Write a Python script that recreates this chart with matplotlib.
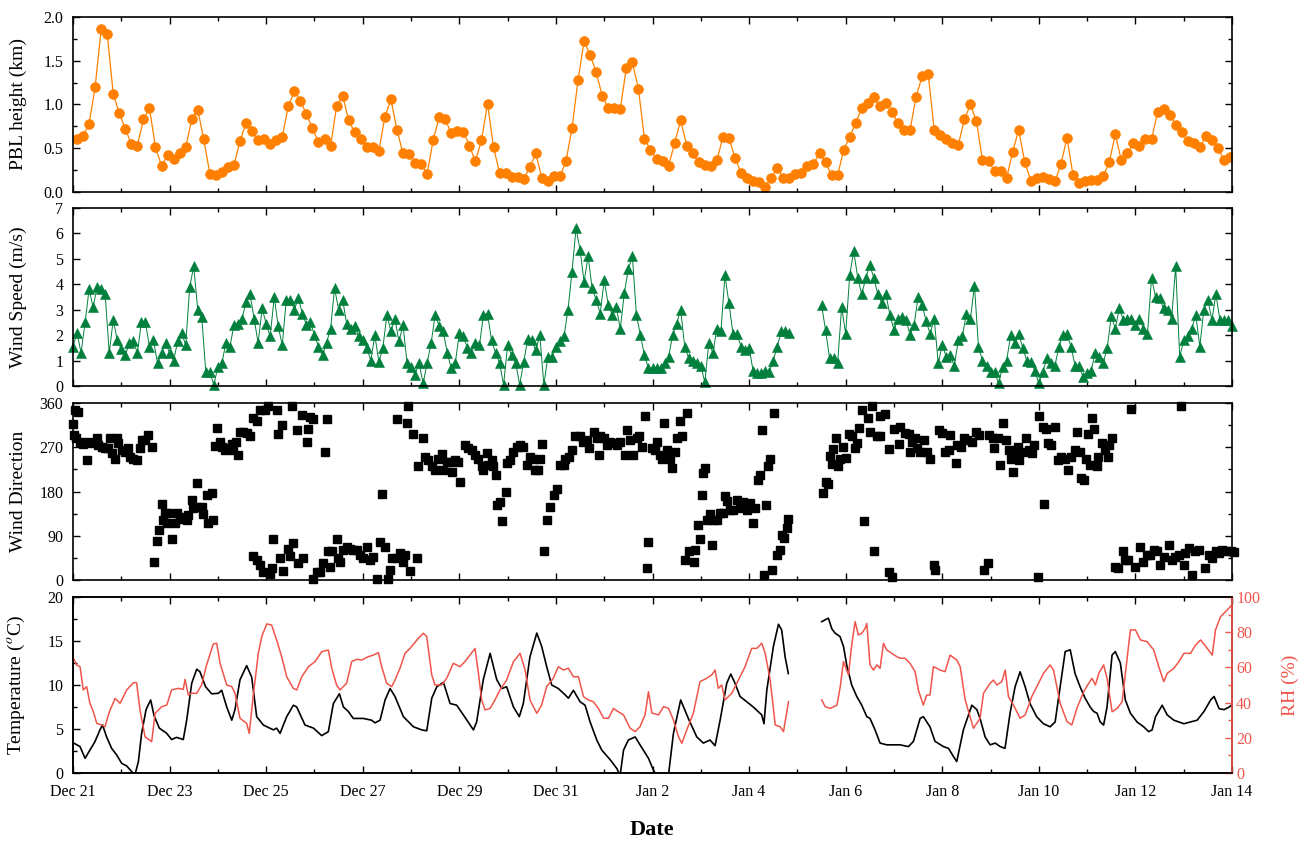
import numpy as np
import matplotlib
matplotlib.use('Agg')
import matplotlib.pyplot as plt
import matplotlib.dates as mdates
from matplotlib.ticker import MultipleLocator, FormatStrFormatter
from datetime import datetime, timedelta

plt.rcParams['font.family'] = ['Liberation Serif', 'DejaVu Serif']
plt.rcParams['mathtext.fontset'] = 'stix'

nan = float('nan')
START = datetime(2019, 12, 21)
N_DAYS = 24

# ---------------- data ----------------
# PBL height (km), 3-hourly starting 02:00 Dec 21
pbl_first_hour = 2
pbl_step_hours = 3
pbl_km = [0.61,0.64,0.78,1.20,1.86,1.81,1.12,0.90,0.72,0.55,0.53,0.83,0.96,0.51,0.30,0.42,
          0.38,0.45,0.51,0.83,0.94,0.60,0.21,0.19,0.23,0.29,0.31,0.58,0.79,0.70,0.59,0.61,
          0.55,0.59,0.63,0.98,1.15,1.04,0.89,0.73,0.57,0.60,0.52,0.98,1.10,0.82,0.68,0.60,
          0.51,0.51,0.47,0.86,1.06,0.71,0.44,0.43,0.33,0.32,0.21,0.59,0.86,0.83,0.67,0.70,
          0.69,0.53,0.35,0.59,1.01,0.51,0.22,0.22,0.17,0.17,0.15,0.28,0.44,0.16,0.12,0.18,
          0.18,0.35,0.73,1.28,1.72,1.57,1.37,1.10,0.96,0.96,0.95,1.42,1.48,1.18,0.61,0.48,
          0.38,0.35,0.30,0.56,0.82,0.53,0.44,0.34,0.31,0.30,0.36,0.63,0.62,0.39,0.22,0.16,
          0.13,0.11,0.06,0.16,0.27,0.16,0.16,0.20,0.22,0.30,0.32,0.45,0.34,0.19,0.19,
          0.48,0.63,0.79,0.96,1.02,1.08,0.98,1.02,0.91,0.79,0.71,0.71,1.09,1.32,1.35,0.71,
          0.65,0.60,0.56,0.54,0.83,1.00,0.81,0.36,0.35,0.24,0.24,0.16,0.46,0.71,0.34,0.13,
          0.16,0.17,0.15,0.12,0.32,0.62,0.19,0.10,0.13,0.14,0.14,0.18,0.34,0.66,0.36,0.44,
          0.56,0.52,0.60,0.60,0.91,0.95,0.88,0.77,0.69,0.58,0.56,0.51,0.64,0.59,0.50,0.37,0.40]

# Wind speed (m/s), 2-hourly from 00:00 Dec 21 (nan = missing)
ws_step_hours = 2
wind_speed = [1.55,2.1,1.3,2.5,3.8,3.1,3.9,3.8,3.6,1.3,2.6,1.8,1.45,1.2,1.7,1.75,1.3,2.5,2.5,1.55,
              1.8,0.9,1.3,1.7,1.3,1.0,1.75,2.1,1.6,3.9,4.7,3.0,2.7,0.55,0.55,0.05,0.75,0.9,1.7,1.55,
              2.4,2.45,2.65,3.3,3.6,2.65,1.7,3.05,2.45,1.95,3.5,2.35,1.6,3.4,3.4,3.0,3.45,2.85,2.4,2.5,
              2.0,1.55,1.2,1.7,2.25,3.85,3.0,3.4,2.45,2.25,2.35,1.95,1.8,1.5,1.0,2.0,0.95,1.5,2.8,2.15,
              2.65,1.75,2.4,0.9,0.75,0.45,0.9,0.1,0.9,1.7,2.8,2.35,2.15,1.3,0.7,0.9,2.1,
              1.95,1.5,1.3,1.7,1.6,2.8,2.85,1.8,1.3,0.9,0.05,1.6,1.2,0.9,0.05,0.95,1.85,1.8,1.4,2.0,
              0.05,1.15,1.15,1.55,1.75,1.95,3.0,4.5,6.2,5.35,4.1,5.1,3.85,3.4,2.85,4.15,3.2,2.8,3.1,2.25,
              3.65,4.6,5.1,2.8,2.0,1.2,0.7,0.7,0.7,0.7,0.9,1.15,2.0,2.45,3.0,1.55,1.1,1.0,0.9,0.8,
              0.15,1.7,1.3,2.25,2.15,4.35,3.25,2.05,2.05,1.55,1.4,1.5,0.6,0.5,0.5,0.6,0.55,1.0,1.55,2.15,
              2.15,2.1,
              nan,nan,nan,nan,nan,nan,nan,
              3.2,2.2,1.1,1.1,0.9,3.1,2.05,4.35,5.3,4.25,3.6,4.25,4.75,4.25,3.6,3.25,3.6,2.8,2.2,2.65,
              2.7,2.6,2.0,2.4,3.5,3.2,2.55,2.05,2.65,0.9,1.6,1.15,1.2,0.8,1.8,1.95,2.85,2.65,3.95,1.55,
              1.0,0.8,0.55,0.55,0.1,0.75,1.0,2.0,1.7,2.05,1.5,1.0,0.95,0.6,0.1,0.55,1.1,0.9,0.8,1.55,
              2.0,2.05,1.55,0.8,0.8,0.35,0.5,0.6,1.3,1.15,0.9,1.5,2.75,2.25,3.05,2.6,2.65,2.65,2.4,2.65,
              2.25,2.05,4.25,3.5,3.45,3.05,3.0,2.65,4.7,1.15,1.8,1.95,2.25,2.8,1.55,3.0,3.4,2.6,3.6,2.6,
              2.6,2.6,2.35]

# Wind direction (hour since Dec 21 00:00, degrees)
wind_dir = [
 (0.2,317),(0.5,295),(1,346),(1.5,288),(2.7,341),(3.5,281),(5.1,276),(6.8,244),(7.6,281),(9.3,278),
 (11.8,288),(12.6,275),(14.2,271),(15.9,268),(17.6,269),(18.4,288),(19.2,258),(20.9,247),(21.7,288),
 (22.5,278),(24.2,264),(25.8,261),(27.5,268),(28.3,251),(30.0,247),(31.6,244),(33.3,268),(34.1,285),
 (35.8,285),(37.4,295),(39.1,271),
 (40.4,36),(41.6,80),(42.9,102),(44.1,154),(44.9,122),(45.7,136),(46.6,115),(47.4,136),(49.0,83),
 (50.7,115),(51.5,136),(53.2,125),(54.8,129),(56.5,122),(57.3,132),(59.0,163),(59.8,146),(61.5,197),
 (61.5,149),(63.9,149),(64.8,134),(66.4,173),(67.3,115),(68.9,176),(69.7,122),
 (70.6,273),(71.7,310),(73.1,281),(73.9,271),(75.5,264),(77.2,268),(78.9,276),(79.7,264),(81.0,281),
 (82.2,254),(83.0,302),(84.7,302),(86.3,298),(88.0,292),(89.6,330),(91.3,323),(92.9,346),(95.4,346),
 (97.1,353),(101.2,346),(102.1,296),(103.7,315),(108.7,353),(111.2,305),(113.7,336),(116.1,281),
 (117.0,308),(117.8,332),(119.5,327),(125.2,261),(126.1,327),
 (89.6,49),(91.3,41),(92.9,31),(94.6,17),(97.9,12),(98.7,24),(99.6,83),(102.9,44),(104.5,19),
 (107.0,64),(107.9,49),(109.5,76),(112.0,35),(114.5,44),(119.5,3),(121.1,17),(122.8,17),(124.4,34),
 (126.9,58),(127.7,27),(128.6,58),(131.0,83),(131.9,44),(132.7,37),(134.4,61),(136.0,68),(137.7,64),
 (139.3,61),(141.0,61),(142.6,51),(144.3,44),(146.0,68),(147.6,41),(149.3,47),(150.9,3),(152.6,78),
 (153.4,174),(155.1,68),(156.7,3),(157.6,20),(158.4,44),(160.9,44),(162.5,54),(164.2,37),(165.0,51),
 (167.5,19),(170.8,44),
 (160.9,327),(165.8,319),(166.7,353),(169.2,296),(171.6,231),(174.1,288),(174.9,251),(176.6,244),
 (178.3,231),(179.9,224),(181.6,247),(183.2,256),(184.1,224),(185.7,241),(187.4,241),(188.2,219),
 (189.9,244),(191.5,241),(192.4,199),
 (194.8,275),(196.5,268),(198.2,264),(199.8,254),(201.5,247),(203.1,231),(204.0,224),(205.6,258),
 (206.4,234),(208.1,244),(208.9,231),(210.3,214),(210.6,153),(212.3,159),(213.1,120),(215.2,180),
 (215.5,237),(217.2,244),(218.8,261),(220.5,271),(222.2,275),(223.8,271),(225.5,234),(227.1,251),
 (228.8,247),(229.7,224),(231.3,224),(232.1,247),(233.0,276),(234.1,58),(235.5,122),(237.2,149),
 (238.8,173),(240.5,186),(242.1,234),(243.8,234),(244.6,247),(246.3,251),(247.9,264),(249.6,292),
 (252.0,292),(253.7,281),(255.4,285),(256.2,268),(258.7,302),(260.3,288),(261.2,254),(262.0,292),
 (263.7,288),(265.3,275),(267.0,281),(268.6,278),(270.3,275),(271.9,281),(274.4,254),(275.2,305),
 (276.9,285),(278.5,254),(280.2,288),(281.5,292),(282.7,271),(284.3,334),(285.2,24),(286.0,77),
 (287.7,268),(289.3,264),(290.2,281),(291.8,254),(292.7,247),(293.5,319),(295.2,264),(296.8,247),
 (297.7,227),(299.3,261),(300.2,288),(301.5,323),(302.7,292),(305.2,339),(304.4,41),(306.0,58),
 (308.5,37),(309.3,61),(310.4,111),(311.4,83),(312.6,173),(313.3,217),(314.1,228),(314.9,122),
 (316.6,134),(317.4,71),(318.2,122),(319.9,122),(321.5,136),(323.2,136),(324.0,170),(324.9,161),
 (326.5,142),(328.2,142),(329.8,163),(331.5,146),(333.2,159),(334.8,142),(336.5,156),(338.1,115),
 (339.0,146),(340.6,203),(341.5,214),(342.3,305),(343.2,10),(344.5,153),(345.6,231),(346.5,247),
 (347.3,20),(348.5,339),(349.7,51),(351.4,61),(352.2,92),(353.4,85),(354.7,105),(355.5,124),
 (372.9,176),(374.3,199),(375.4,195),(376.2,252),(377.1,235),(377.9,266),(379.2,288),(380.4,231),
 (381.2,247),(382.9,271),(384.2,249),(385.9,296),(387.0,292),(388.7,268),(389.5,278),(390.8,310),
 (392.3,346),(393.3,120),(395.3,329),(396.1,302),(396.9,353),(398.3,58),(399.4,292),(401.1,292),
 (401.1,334),(403.6,337),(405.3,266),(405.3,17),(406.9,7),(408.1,308),(410.3,276),(411.1,312),
 (413.6,298),(415.3,296),(416.1,261),(416.9,281),(418.6,288),(419.4,268),(421.1,261),(422.8,285),
 (424.4,261),(426.1,247),(427.8,31),(428.6,20),(430.3,305),(431.9,298),(433.6,261),(435.3,264),
 (436.1,295),(438.6,237),(439.4,275),(441.1,271),(442.8,288),(444.4,285),(446.9,281),(448.6,302),
 (450.3,295),(452.8,20),(454.5,34),(455.3,295),(457.0,288),(457.8,268),(459.5,288),(460.8,233),
 (462.0,319),(463.6,285),(465.3,264),(466.2,247),(467.0,220),(467.8,258),(469.5,271),(470.3,244),
 (472.0,261),(473.7,288),(475.3,264),(476.5,258),(477.8,275),(479.5,7),(480.3,334),(482.0,312),
 (482.8,154),(483.6,308),(484.5,278),(486.1,275),(487.8,312),(489.5,244),(491.1,251),(492.8,247),
 (494.4,224),(496.1,251),(497.8,264),(499.1,300),(500.3,261),(501.1,208),(502.4,203),(503.6,247),
 (504.5,296),(505.3,234),(506.5,330),(507.5,308),(508.7,231),(509.5,251),(511.2,278),(512.8,264),
 (514.2,251),(514.8,275),(516.5,288),
 (517.8,27),(519.5,24),(522.0,58),(522.9,41),(524.5,41),(525.9,348),(527.8,27),(530.3,68),(532.0,37),
 (533.6,51),(535.3,51),(537.0,61),(538.7,58),(540.3,31),(542.0,47),(544.5,71),(546.2,41),(547.8,47),
 (549.5,51),(550.9,353),(552.0,31),(552.8,54),(554.5,66),(556.2,10),(557.8,58),(559.5,61),(562.5,24),
 (564.5,51),(566.2,44),(567.8,58),(569.5,54),(571.1,61),(572.8,58),(575.3,58),(577.0,56)]

# Temperature (hour, degC)
temperature = [
 (0,3.45),(3.5,3.0),(6,1.67),(8.4,2.6),(10.9,3.56),(13.4,4.9),(14.7,5.45),(16.7,4.1),(19.2,2.8),
 (21.7,2.05),(24.2,1.1),(26.7,0.8),(29.2,0.15),(30.8,-0.2),(32.5,1.3),(34.1,4.5),(36.3,7.2),(38.6,8.3),
 (40.3,6.5),(42.9,5.1),(46.6,4.5),(49.0,3.8),(51.5,4.05),(54.8,3.8),(56.5,6.0),(59.0,10.2),(61.5,11.8),
 (63.1,11.5),(65.9,9.8),(68.9,9.0),(72.2,9.05),(73.9,9.4),(76.4,7.5),(78.9,6.0),(80.5,7.2),(83.0,10.6),
 (86.3,12.2),(88.8,10.9),(91.3,6.4),(94.6,5.45),(99.6,4.9),(101.2,5.1),(102.9,4.5),(106.2,6.4),
 (109.5,7.7),(111.2,7.5),(115.3,5.45),(119.5,5.1),(123.6,4.25),(126.9,4.7),(129.4,7.9),(132.4,9.0),
 (134.4,7.5),(136.8,7.0),(139.3,6.2),(144.3,6.2),(148.4,6.0),(150.1,5.7),(152.6,6.0),(155.1,8.3),
 (157.6,9.6),(160.0,8.7),(164.2,6.4),(169.2,5.25),(173.3,4.9),(175.8,4.8),(178.3,8.5),(180.8,9.8),
 (184.1,10.3),(187.4,7.9),(190.7,7.7),(194.0,6.6),(199.0,4.9),(200.6,5.8),(203.9,10.6),(207.3,13.6),
 (210.6,10.6),(213.1,9.6),(215.5,9.8),(218.9,7.5),(221.8,6.4),(223.8,7.9),(227.1,13.2),(230.5,15.9),
 (232.9,14.4),(235.4,12.1),(237.9,10.0),(241.2,9.6),(244.5,8.9),(246.2,8.5),(248.7,9.4),(252.0,8.1),
 (254.5,7.7),(257.0,5.8),(260.3,3.75),(262.8,2.6),(267.0,1.5),(270.3,0.5),(271.9,-0.3),(273.6,2.6),
 (276.0,3.75),(279.4,4.1),(281.8,3.2),(286.0,1.67),(288.5,0.3),(292.0,-1.0),(295.9,-0.3),(298.4,4.5),
 (302.0,8.3),(305.8,6.2),(310.0,4.1),(313.3,3.4),(316.6,3.75),(319.1,3.1),(321.6,6.0),(324.9,10.2),
 (326.9,11.25),(329.0,10.2),(331.5,8.7),(334.8,8.1),(338.1,7.5),(342.3,6.6),(343.4,5.6),(344.8,9.4),
 (348.1,14.4),(350.6,16.9),(352.2,16.25),(353.9,13.2),(355.5,11.3),(364,nan),
 (372.1,17.2),(373.8,17.4),(375.4,17.6),(377.1,16.4),(378.7,15.9),(381.2,15.5),(382.9,14.4),
 (384.5,12.3),(387.0,10.0),(389.5,8.7),(392.0,7.7),(394.5,6.4),(396.1,6.2),(398.6,4.9),(401.1,3.4),
 (404.4,3.2),(407.7,3.2),(411.0,3.2),(415.2,3.0),(417.7,3.6),(421.0,6.2),(422.6,6.4),(425.9,5.25),
 (428.4,3.6),(432.6,3.0),(435.1,2.8),(437.6,1.86),(439.2,1.3),(442.5,4.9),(446.7,7.7),(449.2,7.2),
 (450.8,6.2),(453.3,4.1),(455.8,3.2),(458.3,3.4),(460.8,3.0),(463.2,2.8),(465.7,6.8),(468.2,9.8),
 (470.7,11.5),(473.2,9.8),(475.6,7.9),(478.9,6.4),(482.3,5.6),(485.6,5.25),(488.1,5.8),(490.6,9.8),
 (493.1,13.8),(495.6,14.0),(498.0,11.3),(500.5,9.8),(503.0,8.5),(505.5,7.5),(507.2,7.0),(508.9,6.8),
 (510.5,5.8),(512.2,5.45),(513.9,7.5),(516.4,13.4),(518.0,13.8),(520.5,12.5),(523.0,8.3),(525.5,6.8),
 (528.8,5.8),(532.1,5.25),(534.6,4.7),(536.3,4.9),(538.0,6.4),(541.3,7.7),(543.8,6.6),(547.1,6.0),
 (552.1,5.6),(555.4,5.8),(558.7,6.0),(562.1,7.0),(565.4,8.3),(567.1,8.7),(569.6,7.3),(572.1,7.2),
 (574.6,7.5),(576.8,7.9)]

# Relative humidity (hour, %)
rel_hum = [
 (0,65.7),(1.8,61.4),(3.5,60.4),(5.1,47.2),(6.8,49.0),(8.4,39.6),(10.1,34.8),(11.8,28.2),(14.2,27.3),
 (15.9,26.3),(18.1,34.8),(20.9,42.4),(23.4,39.6),(26.7,47.2),(30.0,51.3),(31.6,51.3),(33.3,35.8),
 (35.8,20.6),(39.1,17.8),(40.8,33.9),(44.1,37.7),(46.6,38.6),(49.0,47.2),(52.4,48.1),(54.8,47.5),
 (55.7,53.2),(57.3,44.3),(59.0,45.3),(61.5,45.3),(63.9,50.0),(66.4,61.4),(69.7,73.3),(71.4,73.7),
 (73.1,62.3),(76.4,50.0),(78.9,49.1),(80.5,45.3),(83.0,31.1),(86.3,28.2),(87.6,22.5),(89.6,44.3),
 (92.1,68.0),(93.8,77.5),(96.3,84.7),(98.7,84.1),(101.2,75.6),(103.7,66.1),(106.2,54.7),(109.5,48.1),
 (111.2,47.2),(113.7,54.7),(117.0,60.4),(120.3,63.3),(123.6,68.9),(126.9,69.9),(128.6,59.5),
 (131.0,50.0),(132.7,47.2),(136.0,51.0),(138.5,63.3),(141.0,64.6),(143.5,64.2),(146.8,66.1),
 (149.3,67.0),(151.8,68.4),(153.4,60.4),(155.9,51.0),(158.4,49.1),(160.0,52.8),(162.5,59.5),
 (165.0,68.0),(167.5,70.8),(171.6,76.5),(174.1,79.4),(175.8,77.5),(178.3,55.7),(179.9,50.0),
 (183.2,50.0),(185.7,53.8),(189.0,62.3),(192.3,60.4),(194.8,63.3),(197.3,67.0),(199.8,70.8),
 (201.5,56.6),(203.1,41.5),(204.8,35.8),(207.3,36.7),(209.7,41.5),(212.2,47.2),(215.5,52.8),
 (218.9,63.3),(222.2,68.0),(224.7,58.5),(227.1,41.5),(230.5,33.9),(232.9,38.6),(235.4,49.1),
 (238.7,53.8),(241.2,60.4),(243.7,58.5),(246.2,59.5),(248.7,54.7),(251.2,54.7),(253.7,43.4),
 (256.1,41.5),(258.6,40.5),(261.1,36.7),(263.7,31.1),(266.1,31.1),(268.6,36.7),(271.0,34.8),
 (273.6,33.0),(276.9,25.4),(279.4,23.5),(281.8,26.3),(284.3,33.0),(286.0,46.2),(287.7,34.1),
 (291.0,33.0),(293.5,37.7),(296.0,36.7),(298.4,30.1),(300.9,20.6),(302.6,16.9),(305.0,24.4),
 (308.3,33.9),(311.6,51.9),(314.9,53.8),(317.4,55.7),(319.1,58.5),(320.7,48.1),(322.4,50.0),
 (324.0,41.5),(327.4,45.3),(330.7,52.8),(334.0,60.4),(337.3,70.8),(339.8,70.8),(342.3,73.7),
 (344.0,68.0),(346.5,52.8),(349.0,27.3),(351.4,26.3),(353.1,23.5),(355.6,40.5),(364,nan),
 (372.1,41.5),(373.8,37.7),(376.3,36.7),(379.7,38.6),(381.3,49.0),(382.9,63.3),(385.4,55.7),
 (387.0,72.7),(388.7,86.0),(390.3,78.4),(392.0,79.4),(393.7,82.2),(394.5,85.0),(396.1,61.4),
 (397.8,58.5),(399.5,61.4),(401.1,59.5),(402.8,73.7),(404.4,69.9),(406.9,68.0),(409.4,66.1),
 (411.0,65.2),(413.5,65.2),(416.0,62.3),(418.5,57.6),(420.1,47.2),(422.6,38.6),(424.3,44.3),
 (425.9,44.3),(427.6,60.4),(429.3,59.5),(430.9,58.5),(433.4,57.6),(435.9,67.0),(439.2,64.2),
 (440.9,60.4),(443.4,41.5),(447.5,25.4),(450.8,31.1),(452.5,45.3),(455.8,51.0),(457.5,52.8),
 (459.1,50.0),(461.6,51.9),(463.3,58.5),(464.9,43.4),(467.4,38.6),(470.7,31.1),(473.2,33.0),
 (476.5,43.4),(479.0,49.1),(482.3,56.6),(485.6,61.4),(487.3,58.5),(490.6,39.6),(494.0,29.2),
 (496.4,27.3),(498.9,36.7),(502.3,46.2),(504.8,51.0),(506.4,53.8),(508.1,50.0),(509.8,56.6),
 (512.2,61.4),(513.9,53.8),(516.4,34.8),(518.9,36.7),(521.4,40.5),(523.8,64.2),(525.5,81.3),
 (528.0,81.3),(530.5,75.6),(533.8,74.6),(537.1,69.9),(539.6,60.4),(542.1,51.9),(543.8,56.6),
 (547.1,59.5),(549.6,63.3),(552.1,68.0),(555.4,68.0),(557.9,72.7),(560.4,75.6),(563.7,70.8),
 (566.2,67.0),(567.8,81.3),(570.3,88.8),(573.6,92.6),(576.6,96.4)]

# ---------------- helpers ----------------
def to_dates(hours):
    return [START + timedelta(hours=float(h)) for h in hours]

pbl_t = to_dates(pbl_first_hour + pbl_step_hours * np.arange(len(pbl_km)))
ws_t = to_dates(ws_step_hours * np.arange(len(wind_speed)))
wd_t = to_dates([p[0] for p in wind_dir]); wd_v = [p[1] for p in wind_dir]
tt_t = to_dates([p[0] for p in temperature]); tt_v = [p[1] for p in temperature]
rh_t = to_dates([p[0] for p in rel_hum]); rh_v = [p[1] for p in rel_hum]

ORANGE = '#FF8000'
GREEN = '#00803C'
RED = '#F0554B'

W, H = 1309, 846
fig = plt.figure(figsize=(W / 100, H / 100), dpi=100)
left = 73 / W
width = (1232 - 73) / W
def box(top, bottom):
    return [left, 1 - bottom / H, width, (bottom - top) / H]

ax1 = fig.add_axes(box(17, 192))
ax2 = fig.add_axes(box(208, 386))
ax3 = fig.add_axes(box(403, 580))
ax4 = fig.add_axes(box(597, 773))

major = [START + timedelta(days=d) for d in range(0, N_DAYS + 1, 2)]
minor = [START + timedelta(days=d) for d in range(0, N_DAYS + 1)]
labels = [f"{d:%b} {d.day}" for d in major]

TICK_FS = 11.5
YLAB_FS = 14
for ax in (ax1, ax2, ax3, ax4):
    ax.set_xlim(START, START + timedelta(days=N_DAYS))
    ax.set_xticks(mdates.date2num(major))
    ax.set_xticks(mdates.date2num(minor), minor=True)
    ax.set_xticklabels(labels if ax is ax4 else [])
    ax.tick_params(which='both', direction='in', top=True, right=(ax is not ax4),
                   labelsize=TICK_FS, width=1.0)
    ax.tick_params(which='major', length=5)
    ax.tick_params(which='minor', length=3)
    ax.tick_params(axis='y', which='both', pad=7)
    ax.tick_params(axis='x', which='both', pad=8)
    for s in ax.spines.values():
        s.set_linewidth(1.2)
    ax.yaxis.set_label_coords(-0.040, 0.5)

# Panel 1: PBL
ax1.plot(pbl_t, pbl_km, '-', color=ORANGE, lw=0.9, marker='o', ms=7,
         mfc=ORANGE, mec=ORANGE, mew=0.5)
ax1.set_ylim(0, 2.0)
ax1.yaxis.set_major_locator(MultipleLocator(0.5))
ax1.yaxis.set_minor_locator(MultipleLocator(0.25))
ax1.yaxis.set_major_formatter(FormatStrFormatter('%.1f'))
ax1.set_ylabel('PBL height (km)', fontsize=YLAB_FS)

# Panel 2: wind speed
ax2.plot(ws_t, wind_speed, '-', color=GREEN, lw=0.7, marker='^', ms=6.8,
         mfc=GREEN, mec=GREEN, mew=0.4, clip_on=False)
ax2.set_ylim(0, 7)
ax2.yaxis.set_major_locator(MultipleLocator(1))
ax2.set_ylabel('Wind Speed (m/s)', fontsize=YLAB_FS)

# Panel 3: wind direction
ax3.plot(wd_t, wd_v, 's', color='black', ms=5.6, mec='black', clip_on=False)
ax3.set_ylim(0, 360)
ax3.yaxis.set_major_locator(MultipleLocator(90))
ax3.yaxis.set_minor_locator(MultipleLocator(45))
ax3.set_ylabel('Wind Direction', fontsize=YLAB_FS)

# Panel 4: temperature + RH
ax4.plot(tt_t, tt_v, '-', color='black', lw=1.2)
ax4.set_ylim(0, 20)
ax4.yaxis.set_major_locator(MultipleLocator(5))
ax4.yaxis.set_minor_locator(MultipleLocator(2.5))
ax4.set_ylabel('Temperature ($^{o}$C)', fontsize=YLAB_FS)

ax4r = ax4.twinx()
ax4r.plot(rh_t, rh_v, '-', color=RED, lw=1.1)
ax4r.set_ylim(0, 100)
ax4r.yaxis.set_major_locator(MultipleLocator(20))
ax4r.yaxis.set_minor_locator(MultipleLocator(10))
ax4r.tick_params(which='both', direction='in', colors=RED, labelsize=TICK_FS, width=1.0, pad=3)
ax4r.tick_params(which='major', length=5)
ax4r.tick_params(which='minor', length=3)
for s in ax4r.spines.values():
    s.set_linewidth(1.2)
ax4r.spines['right'].set_color(RED)
ax4r.set_ylabel('RH (%)', color=RED, fontsize=YLAB_FS)
ax4r.yaxis.set_label_coords(1.043, 0.5)
ax4.set_xlim(START, START + timedelta(days=N_DAYS))

fig.text(0.498, 1 - 830 / H, 'Date', ha='center', va='center',
         fontsize=16, fontweight='bold')

fig.savefig('out.png', dpi=100)
